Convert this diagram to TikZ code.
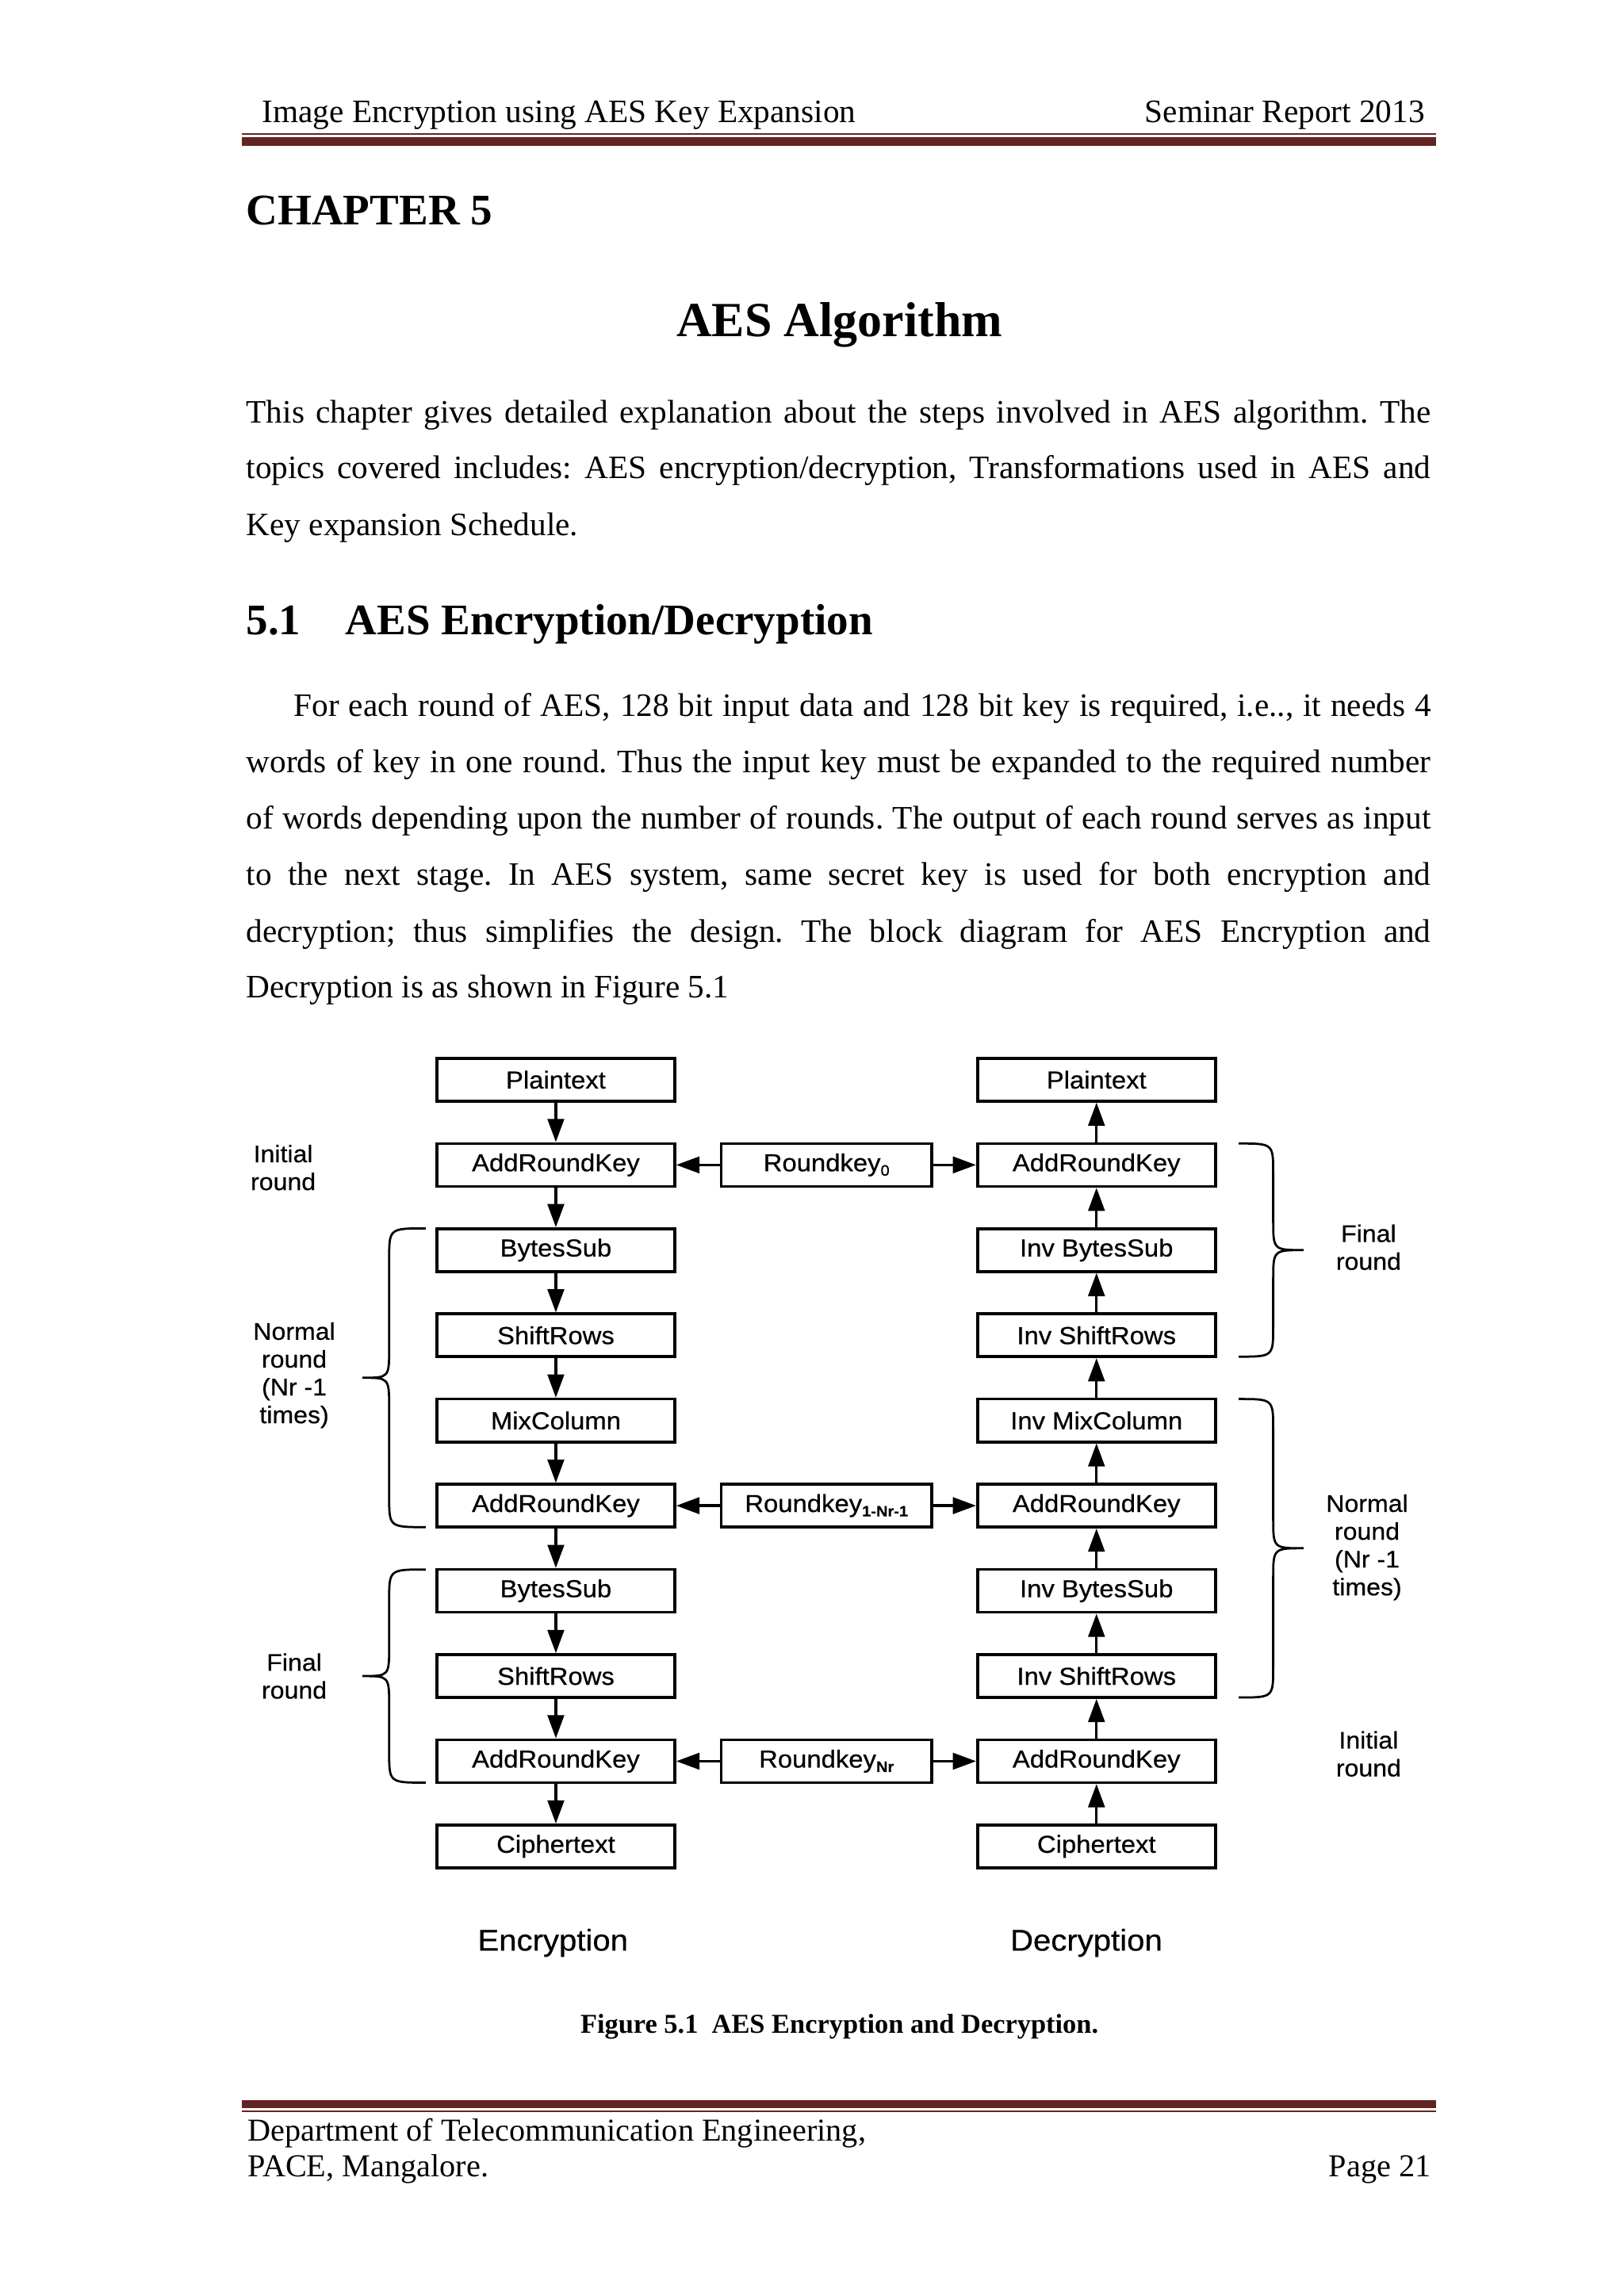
\documentclass[tikz,border=0pt]{standalone}
\usepackage{fontspec}
\setmainfont{Liberation Serif}
\newfontfamily\figfont[FakeStretch=1.06,FakeBold=0.5]{Liberation Sans}
\newfontfamily\footfont{Liberation Serif}
\usetikzlibrary{arrows.meta}
\definecolor{rulemaroon}{HTML}{622423}
\newcommand{\keysub}[1]{\raisebox{-1.6pt}{\fontsize{5.5}{6}\selectfont #1}}
\frenchspacing
\tikzset{
  box/.style={draw, line width=1.05pt, minimum width=87.2pt, minimum height=15.7pt, inner sep=0pt, font=\figfont\fontsize{9}{10}\selectfont},
  kbox/.style={box, minimum width=77.1pt},
  flow/.style={line width=0.95pt, -{Triangle[length=8.5pt,width=6pt]}},
  bracepath/.style={line width=0.8pt},
  side/.style={align=center, inner sep=0pt, font=\figfont\fontsize{8.8}{10.2}\selectfont},
  txt/.style={anchor=base west, inner sep=0pt, font=\fontsize{12}{14}\selectfont},
  head/.style={inner sep=0pt, font=\fontsize{12}{14}\selectfont},
  foot/.style={inner sep=0pt, font=\footfont\fontsize{11.7}{14}\selectfont},
  rulefill/.style={fill=rulemaroon},
}
\begin{document}
\begin{tikzpicture}[x=0.541164pt,y=-0.541164pt]
\useasboundingbox (0,0) rectangle (1100,1555.5);
\fill[white] (0,0) rectangle (1100,1555.5);

% ---------- header ----------
\node[head, anchor=base west] (htl) at (177.2,83) {Image Encryption using AES Key Expansion};
\node[head, anchor=base east] (htr) at (965.5,83) {Seminar Report 2013};
\fill[rulefill] (163.8,90.3) rectangle (972.5,91.1);
\fill[rulefill] (163.8,93) rectangle (972.5,98.6);

% ---------- titles ----------
\node[anchor=base west, inner sep=0pt, font=\bfseries\fontsize{16}{18}\selectfont] (chap) at (166.5,152.3) {CHAPTER 5};
\node[anchor=base, inner sep=0pt, font=\bfseries\fontsize{18}{20}\selectfont] (title) at (568.6,228.2) {AES Algorithm};

% ---------- paragraph 1 ----------
\node[txt] (pa1) at (166.5,286.3) {\makebox[434.2pt][s]{This chapter gives detailed explanation about the steps involved in AES algorithm. The}};
\node[txt] (pa2) at (166.5,324.3) {\makebox[434.2pt][s]{topics covered includes: AES encryption/decryption, Transformations used in AES and}};
\node[txt] (pa3) at (166.5,362.6) {Key expansion Schedule.};

% ---------- section ----------
\node[anchor=base west, inner sep=0pt, font=\bfseries\fontsize{16}{18}\selectfont] (secn) at (166.5,430) {5.1};
\node[anchor=base west, inner sep=0pt, font=\bfseries\fontsize{16}{18}\selectfont] (sect) at (233.6,430) {AES Encryption/Decryption};

% ---------- paragraph 2 ----------
\node[txt] (pb1) at (198.7,485.3) {\makebox[416.8pt][s]{For each round of AES, 128 bit input data and 128 bit key is required, i.e.., it needs 4}};
\node[txt] (pb2) at (166.5,523.4) {\makebox[434.2pt][s]{words of key in one round. Thus the input key must be expanded to the required number}};
\node[txt] (pb3) at (166.5,561.3) {\makebox[434.2pt][s]{of words depending upon the number of rounds. The output of each round serves as input}};
\node[txt] (pb4) at (166.5,599.8) {\makebox[434.2pt][s]{to the next stage. In AES system, same secret key is used for both encryption and}};
\node[txt] (pb5) at (166.5,638.3) {\makebox[434.2pt][s]{decryption; thus simplifies the design. The block diagram for AES Encryption and}};
\node[txt] (pb6) at (166.5,675.9) {Decryption is as shown in Figure 5.1};

% ---------- figure: boxes ----------
\foreach \k/\lt/\rt in {0/Plaintext/Plaintext, 1/AddRoundKey/AddRoundKey, 2/BytesSub/Inv BytesSub, 3/ShiftRows/Inv ShiftRows, 4/MixColumn/Inv MixColumn, 5/AddRoundKey/AddRoundKey, 6/BytesSub/Inv BytesSub, 7/ShiftRows/Inv ShiftRows, 8/AddRoundKey/AddRoundKey, 9/Ciphertext/Ciphertext}{
  \node[box] (L\k) at (376.5,{731.5+57.71*\k}) {\lt};
  \node[box] (R\k) at (742.7,{731.5+57.71*\k}) {\rt};
}
\node[kbox] (K1) at (559.8,{731.5+57.71*1}) {Roundkey\keysub{0}};
\node[kbox] (K5) at (559.8,{731.5+57.71*5}) {Roundkey\keysub{\bfseries 1-Nr-1}};
\node[kbox] (K8) at (559.8,{731.5+57.71*8}) {Roundkey\keysub{\bfseries Nr}};

% ---------- figure: arrows ----------
\foreach \i/\j in {0/1,1/2,2/3,3/4,4/5,5/6,6/7,7/8,8/9}{
  \draw[flow] (L\i) -- (L\j);
  \draw[flow] (R\j) -- (R\i);
}
\foreach \k in {1,5,8}{
  \draw[flow] (K\k) -- (L\k);
  \draw[flow] (K\k) -- (R\k);
}

% ---------- figure: braces ----------
% left, normal round
\draw[bracepath] (288.3,832.2) .. controls (263.6,832.2) .. (263.6,853) -- (263.6,913) .. controls (263.6,933.4) .. (245.5,933.4) .. controls (263.6,933.4) .. (263.6,954) -- (263.6,1014) .. controls (263.6,1034.6) .. (288.3,1034.6);
% left, final round
\draw[bracepath] (288.3,1063.3) .. controls (263.6,1063.3) .. (263.6,1084) -- (263.6,1115) .. controls (263.6,1135.5) .. (245.5,1135.5) .. controls (263.6,1135.5) .. (263.6,1156) -- (263.6,1187) .. controls (263.6,1207.7) .. (288.3,1207.7);
% right, final round
\draw[bracepath] (839,774.7) .. controls (862.4,774.7) .. (862.4,795) -- (862.4,826.5) .. controls (862.4,846.9) .. (883,846.9) .. controls (862.4,846.9) .. (862.4,867.3) -- (862.4,898.7) .. controls (862.4,919.1) .. (839,919.1);
% right, normal round
\draw[bracepath] (839,947.8) .. controls (862.4,947.8) .. (862.4,968.5) -- (862.4,1028.5) .. controls (862.4,1048.9) .. (883,1048.9) .. controls (862.4,1048.9) .. (862.4,1069.3) -- (862.4,1129.5) .. controls (862.4,1150) .. (839,1150);

% ---------- figure: side labels ----------
\node[side] (linit) at (191.8,791) {Initial\\round};
\node[side] (lnorm) at (199.3,931.7) {Normal\\round\\(Nr -1\\times)};
\node[side] (lfin) at (199.3,1135.5) {Final\\round};
\node[side] (rfin) at (927,845) {Final\\round};
\node[side] (rnorm) at (926,1048.3) {Normal\\round\\(Nr -1\\times)};
\node[side] (rinit) at (927,1188.2) {Initial\\round};

\node[anchor=base, inner sep=0pt, font=\figfont\fontsize{11}{13}\selectfont] (enc) at (374.5,1321.5) {Encryption};
\node[anchor=base, inner sep=0pt, font=\figfont\fontsize{11}{13}\selectfont] (dec) at (735.8,1321.5) {Decryption};

% ---------- caption ----------
\node[anchor=base, inner sep=0pt, font=\bfseries\fontsize{10}{12}\selectfont] (cap) at (568.6,1377.6) {Figure 5.1\ \ AES Encryption and Decryption.};

% ---------- footer ----------
\fill[rulefill] (163.8,1423) rectangle (972.5,1428.3);
\fill[rulefill] (163.8,1429.8) rectangle (972.5,1431);
\node[foot, anchor=base west] (f1) at (167.4,1450.6) {Department of Telecommunication Engineering,};
\node[foot, anchor=base west] (f2) at (167.4,1474.6) {PACE, Mangalore.};
\node[foot, anchor=base east] (f3) at (969.5,1474.6) {Page 21};
\end{tikzpicture}
\end{document}
